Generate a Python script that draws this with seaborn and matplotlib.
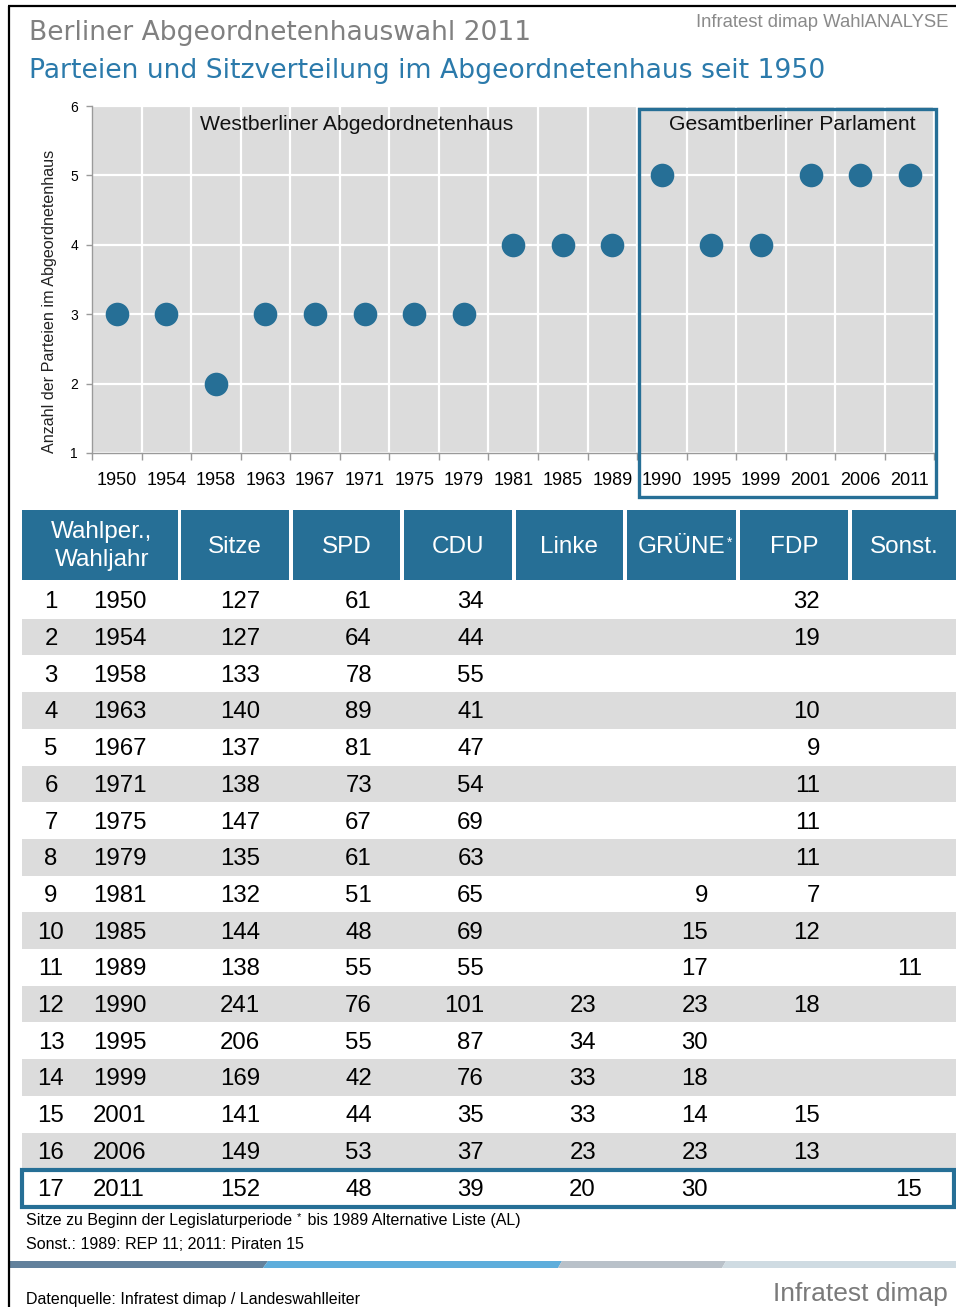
import numpy as np
import matplotlib
matplotlib.use("Agg")
import matplotlib.pyplot as plt
from matplotlib.patches import Rectangle, Polygon
import matplotlib.transforms as mtransforms
import seaborn as sns

# Election years and number of parties represented in the Abgeordnetenhaus
years = ["1950", "1954", "1958", "1963", "1967", "1971", "1975", "1979", "1981",
         "1985", "1989", "1990", "1995", "1999", "2001", "2006", "2011"]
parties = [3, 3, 2, 3, 3, 3, 3, 3, 4, 4, 4, 5, 4, 4, 5, 5, 5]
groups = ["Westberliner Abgedordnetenhaus", "Gesamtberliner Parlament"]

# Seat distribution per legislative period
periods = list(range(1, 18))
seats = [127, 127, 133, 140, 137, 138, 147, 135, 132, 144, 138, 241, 206, 169, 141, 149, 152]
spd = [61, 64, 78, 89, 81, 73, 67, 61, 51, 48, 55, 76, 55, 42, 44, 53, 48]
cdu = [34, 44, 55, 41, 47, 54, 69, 63, 65, 69, 55, 101, 87, 76, 35, 37, 39]
linke = [None] * 11 + [23, 34, 33, 33, 23, 20]
gruene = [None] * 8 + [9, 15, 17, 23, 30, 18, 14, 23, 30]
fdp = [32, 19, None, 10, 9, 11, 11, 11, 7, 12, None, 18, None, None, 15, 13, None]
sonst = [None] * 10 + [11] + [None] * 5 + [15]
header = ["Wahlper.,\nWahljahr", "Sitze", "SPD", "CDU", "Linke", "GRÜNE", "FDP", "Sonst."]

BLUE = "#266f96"
GREY_BG = "#dcdcdc"
W, H = 956, 1307

sns.set_theme(style="darkgrid", rc={"axes.facecolor": GREY_BG})
plt.rcParams["font.family"] = ["Liberation Sans", "DejaVu Sans"]

fig = plt.figure(figsize=(W / 100, H / 100), dpi=100)
fig.patch.set_facecolor("white")

# Pixel-based canvas for the frame, titles and the table
cv = fig.add_axes([0, 0, 1, 1])
cv.set_xlim(0, W)
cv.set_ylim(H, 0)
cv.axis("off")

# ---- Dot chart -------------------------------------------------------------
ax_l, ax_r, ax_t, ax_b = 92, 934.5, 106, 453
ax = fig.add_axes([ax_l / W, 1 - ax_b / H, (ax_r - ax_l) / W, (ax_b - ax_t) / H])
sns.stripplot(x=years, y=parties, order=years, jitter=False, size=17,
              color=BLUE, linewidth=0, ax=ax, zorder=3)
ax.set_xlim(-0.5, len(years) - 0.5)
ax.set_ylim(1, 6)
ax.set_yticks(range(1, 7))
ax.set_xticks(range(len(years)))
ax.set_xticklabels(years)
ax.set_xticks(np.arange(-0.5, len(years), 1.0), minor=True)
ax.grid(False)
ax.yaxis.grid(True, which="major", color="white", lw=1.6)
ax.xaxis.grid(True, which="minor", color="white", lw=1.6)
for s in ["top", "right"]:
    ax.spines[s].set_visible(False)
for s in ["left", "bottom"]:
    ax.spines[s].set_visible(True)
    ax.spines[s].set_color("#9a9a9a")
    ax.spines[s].set_linewidth(1.0)
ax.tick_params(axis="x", which="major", length=0, pad=14, labelsize=13, labelcolor="black")
ax.tick_params(axis="x", which="minor", length=5, width=1, color="#9a9a9a", direction="out", bottom=True)
ax.tick_params(axis="y", which="major", length=4, width=1, color="#9a9a9a", direction="out",
               left=True, pad=6, labelsize=10, labelcolor="black")
ax.set_xlabel("")
ax.set_ylabel("Anzahl der Parteien im Abgeordnetenhaus", fontsize=11.6, color="#222222")
ax.yaxis.set_label_coords(-0.041, 0.438)

ax.text(0.3145, 0.948, groups[0], transform=ax.transAxes, ha="center", va="center",
        fontsize=15.2, color="#111111")
ax.text(0.831, 0.948, groups[1], transform=ax.transAxes, ha="center", va="center",
        fontsize=15.2, color="#111111")

# Frame around the reunified-parliament years
first_united = years.index("1990")
trans = mtransforms.blended_transform_factory(ax.transData, ax.transAxes)
ax.add_patch(Rectangle((first_united - 0.5 + 0.03, -0.127), len(years) - first_united + 0.01, 1.118,
                       transform=trans, fill=False, edgecolor=BLUE, lw=2.4, clip_on=False, zorder=5))

# ---- Frame and titles --------------------------------------------------------
cv.plot([9, 9], [6, H], color="black", lw=1.6, solid_capstyle="butt")
cv.plot([8, W], [6, 6], color="black", lw=1.6, solid_capstyle="butt")

cv.text(29, 40, "Berliner Abgeordnetenhauswahl 2011", fontsize=19.1, color="#808080",
        family="DejaVu Sans", va="baseline", ha="left")
cv.text(29, 78, "Parteien und Sitzverteilung im Abgeordnetenhaus seit 1950", fontsize=19.2,
        color="#2b7aab", family="DejaVu Sans", va="baseline", ha="left")
cv.text(948, 27, "Infratest dimap WahlANALYSE", fontsize=13.3, color="#8a8a8a",
        va="baseline", ha="right")

# ---- Table -------------------------------------------------------------------
col_edges = [(22, 178), (181, 289), (293, 400), (404, 512), (516, 623), (627, 736),
             (740, 848), (852, 956)]
head_top, head_bot = 510, 580
for (x0, x1), lab in zip(col_edges, header):
    cv.add_patch(Rectangle((x0, head_top), x1 - x0, head_bot - head_top, color=BLUE, lw=0))
    xc = (x0 + x1) / 2
    if "\n" in lab:
        cv.text(xc + 2, (head_top + head_bot) / 2 + 1, lab, ha="center", va="center",
                fontsize=17.5, color="white", linespacing=1.35)
    else:
        t = cv.text(xc, 553, lab, ha="center", va="baseline", fontsize=17.5, color="white")
        if lab == "GRÜNE":
            cv.annotate("*", xy=(1, 1), xycoords=t, xytext=(1, 0), textcoords="offset points",
                        ha="left", va="top", fontsize=10, color="white")

row_top, row_h = 582, 36.7
value_cols = [seats, spd, cdu, linke, gruene, fdp, sonst]
right_edges = [260, 372, 484, 596, 708, 820, 922]
for i, (p, yr) in enumerate(zip(periods, years)):
    top = row_top + i * row_h
    if i % 2 == 1:
        cv.add_patch(Rectangle((22, top), W - 22, row_h, color=GREY_BG, lw=0))
    base = top + row_h / 2 + 8
    cv.text(51, base, str(p), ha="center", va="baseline", fontsize=17.3, color="black")
    cv.text(93, base, yr, ha="left", va="baseline", fontsize=17.3, color="black")
    for vals, xr in zip(value_cols, right_edges):
        v = vals[i]
        if v is not None:
            cv.text(xr, base, str(v), ha="right", va="baseline", fontsize=17.3, color="black")

last_top = row_top + (len(periods) - 1) * row_h
cv.add_patch(Rectangle((22, last_top + 1), 932, row_h, fill=False, edgecolor=BLUE, lw=3.0))

# ---- Footnotes -----------------------------------------------------------------
f1 = cv.text(26, 1225, "Sitze zu Beginn der Legislaturperiode", fontsize=11.5, color="black",
             va="baseline", ha="left")
star = cv.annotate("*", xy=(1, 1), xycoords=f1, xytext=(3, 1), textcoords="offset points",
                   ha="left", va="top", fontsize=8, color="black")
cv.annotate(" bis 1989 Alternative Liste (AL)", xy=(1, 0), xycoords=f1, xytext=(8, 0),
            textcoords="offset points", ha="left", va="bottom", fontsize=11.5, color="black")
cv.text(26, 1249, "Sonst.: 1989: REP 11; 2011: Piraten 15", fontsize=11.5, color="black",
        va="baseline", ha="left")

# Decorative colour band
band_top, band_bot = 1261, 1268
segments = [((10, 263, 268), "#62819c"), ((263, 558, 562), "#5eaddb"),
            ((558, 722, 726), "#b9c1c9"), ((722, W, W), "#cfdbe2")]
prev = None
for (x0, x1b, x1t), c in segments:
    x0b = x0
    x0t = x0 if prev is None else prev
    cv.add_patch(Polygon([(x0b, band_bot), (x1b, band_bot), (x1t, band_top), (x0t, band_top)],
                         closed=True, color=c, lw=0))
    prev = x1t

cv.text(26, 1304, "Datenquelle: Infratest dimap / Landeswahlleiter", fontsize=11.5, color="black",
        va="baseline", ha="left")
cv.text(948, 1301, "Infratest dimap", fontsize=19, color="#7a7a7a", va="baseline", ha="right")

fig.savefig("out.png", dpi=100, facecolor="white")
